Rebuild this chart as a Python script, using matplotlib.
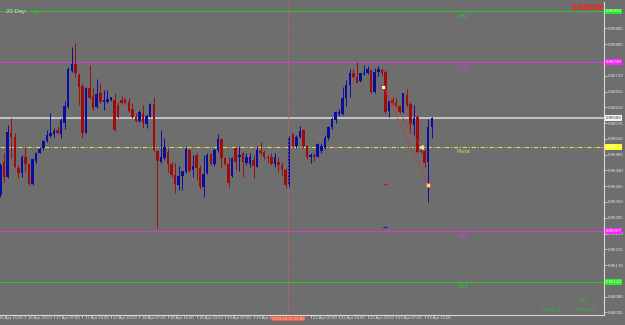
import numpy as np
import matplotlib
matplotlib.use("Agg")
import matplotlib.pyplot as plt
import matplotlib.transforms as mtransforms

plt.rcParams["font.family"] = ["Liberation Sans", "DejaVu Sans"]

# H1 candles, prices in points (1e-5)
opens = [86370, 86465, 86422, 86548, 86536, 86448, 86433, 86477, 86458, 86401,
         86468, 86490, 86503, 86524, 86538, 86544, 86555, 86544, 86575, 86620,
         86724, 86743, 86712, 86682, 86548, 86676, 86652, 86620, 86662, 86636,
         86636, 86641, 86641, 86626, 86641, 86643, 86636, 86615, 86593, 86582,
         86601, 86572, 86593, 86628, 86495, 86465, 86475, 86493, 86458, 86427,
         86398, 86424, 86436, 86498, 86441, 86484, 86446, 86393, 86432, 86487,
         86458, 86498, 86529, 86475, 86458, 86424, 86503, 86477, 86489, 86460,
         86458, 86470, 86451, 86496, 86493, 86478, 86477, 86458, 86465, 86455,
         86441, 86398, 86544, 86510, 86536, 86555, 86510, 86477, 86484, 86479,
         86496, 86503, 86532, 86563, 86584, 86601, 86601, 86646, 86684, 86719,
         86707, 86696, 86715, 86717, 86726, 86664, 86720, 86726, 86721, 86610,
         86641, 86631, 86624, 86607, 86655, 86629, 86570, 86593, 86495, 86495,
         86465, 86563]
highs = [86462, 86489, 86570, 86589, 86546, 86455, 86484, 86508, 86460, 86475,
         86493, 86508, 86527, 86555, 86605, 86560, 86567, 86589, 86639, 86736,
         86793, 86802, 86717, 86688, 86679, 86741, 86679, 86700, 86690, 86669,
         86669, 86650, 86662, 86636, 86652, 86646, 86646, 86631, 86603, 86612,
         86626, 86601, 86631, 86648, 86498, 86555, 86532, 86503, 86465, 86460,
         86453, 86439, 86508, 86500, 86484, 86489, 86455, 86484, 86489, 86489,
         86503, 86543, 86532, 86479, 86479, 86479, 86508, 86510, 86493, 86490,
         86489, 86484, 86510, 86522, 86498, 86484, 86489, 86489, 86479, 86465,
         86446, 86538, 86546, 86541, 86567, 86557, 86512, 86490, 86489, 86519,
         86517, 86541, 86567, 86591, 86610, 86614, 86679, 86698, 86728, 86728,
         86750, 86719, 86741, 86738, 86728, 86732, 86738, 86732, 86726, 86641,
         86650, 86647, 86626, 86662, 86672, 86636, 86626, 86598, 86507, 86500,
         86586, 86593]
lows = [86365, 86408, 86417, 86475, 86446, 86417, 86422, 86436, 86398, 86398,
        86460, 86489, 86498, 86522, 86536, 86536, 86544, 86532, 86557, 86617,
        86721, 86707, 86626, 86532, 86546, 86643, 86612, 86617, 86633, 86612,
        86633, 86639, 86553, 86589, 86629, 86628, 86607, 86589, 86579, 86579,
        86560, 86560, 86593, 86493, 86277, 86460, 86470, 86436, 86422, 86376,
        86384, 86384, 86433, 86436, 86420, 86413, 86388, 86365, 86430, 86455,
        86453, 86493, 86451, 86455, 86394, 86422, 86441, 86439, 86422, 86455,
        86449, 86417, 86449, 86484, 86472, 86460, 86455, 86451, 86436, 86424,
        86389, 86394, 86506, 86503, 86532, 86503, 86472, 86462, 86468, 86477,
        86489, 86500, 86527, 86557, 86576, 86595, 86598, 86624, 86650, 86703,
        86688, 86693, 86712, 86715, 86662, 86660, 86709, 86709, 86604, 86593,
        86626, 86622, 86604, 86605, 86621, 86547, 86541, 86489, 86489, 86451,
        86351, 86532]
closes = [86455, 86422, 86550, 86536, 86451, 86433, 86479, 86458, 86401, 86472,
          86490, 86500, 86524, 86541, 86548, 86553, 86546, 86584, 86624, 86728,
          86743, 86717, 86679, 86546, 86676, 86646, 86617, 86658, 86636, 86641,
          86643, 86648, 86555, 86591, 86631, 86631, 86610, 86591, 86582, 86607,
          86574, 86595, 86628, 86498, 86468, 86479, 86506, 86458, 86427, 86401,
          86424, 86438, 86500, 86439, 86453, 86446, 86393, 86430, 86484, 86458,
          86498, 86529, 86475, 86458, 86403, 86475, 86465, 86484, 86465, 86477,
          86477, 86453, 86498, 86489, 86477, 86476, 86458, 86477, 86455, 86443,
          86398, 86536, 86510, 86536, 86553, 86510, 86477, 86484, 86477, 86515,
          86510, 86532, 86563, 86586, 86607, 86607, 86646, 86684, 86717, 86707,
          86690, 86717, 86719, 86728, 86664, 86721, 86729, 86718, 86607, 86639,
          86631, 86624, 86607, 86660, 86626, 86572, 86589, 86493, 86492, 86462,
          86563, 86589]

# 19 Apr 23:00 sits under the crosshair box, so it is left out
time_labels = ["16 Apr 15:00", "16 Apr 23:00", "17 Apr 07:00", "17 Apr 15:00",
               "17 Apr 23:00", "18 Apr 07:00", "18 Apr 15:00", "18 Apr 23:00",
               "19 Apr 07:00", "19 Apr 15:00", "22 Apr 07:00",
               "22 Apr 15:00", "22 Apr 23:00", "23 Apr 07:00", "23 Apr 15:00"]
time_idx = [-1, 7, 15, 23, 31, 39, 47, 55, 63, 71, 87, 95, 103, 111, 119]

# ticks hidden behind level boxes are not labelled
y_ticks = [0.86035, 0.86080, 0.86170, 0.86215, 0.86260, 0.86305,
           0.86350, 0.86395, 0.86440, 0.86485, 0.86530, 0.86575, 0.86620,
           0.86665, 0.86710, 0.86800, 0.86845]

level_names = ["R61", "R38", "Pivot", "S38", "S61"]
level_values = [0.86894, 0.86749, 0.86507, 0.86267, 0.86122]
level_colors = ["#2ec42e", "#d838d8", "#dede50", "#d838d8", "#2ec42e"]
box_colors = ["#22ee22", "#ff22ff", "#ffff22", "#ff22ff", "#22ee22"]
bid = 0.86589

cross_idx = 80.8
cross_label = "2019.04.22 01:00"

# trade history: entry and two exits
trade_x = [107.4, 118.0, 120.0]
trade_y = [0.86678, 0.86507, 0.86398]

o = np.array(opens) / 1e5
h = np.array(highs) / 1e5
l = np.array(lows) / 1e5
c = np.array(closes) / 1e5
x = np.arange(len(o))

bg = "#6e6e6e"
fg = "#e6e6e6"
bull = "#0c0ca0"
bear = "#a00c0c"

fig = plt.figure(figsize=(6.25, 3.25), dpi=100, facecolor=bg)
ax = fig.add_axes([0, 10 / 325, 604 / 625, 313 / 325], facecolor=bg)

cols = np.where(c >= o, bull, bear)
ax.vlines(x, l, h, colors=cols, linewidth=0.7, zorder=3)
body_bot = np.minimum(o, c)
body_h = np.maximum(np.abs(c - o), 0.000012)
ax.bar(x, body_h, bottom=body_bot, width=0.7, color=cols, linewidth=0, zorder=4)

# levels
for name, val, col in zip(level_names, level_values, level_colors):
    if name == "Pivot":
        ax.axhline(val, color=col, linewidth=0.8, linestyle=(0, (4, 1.5, 1, 1.5)), zorder=2)
    else:
        ax.axhline(val, color=col, linewidth=0.72, antialiased=False, zorder=2)
    ax.annotate(name, (129.8, val), xytext=(0, -3.6), textcoords="offset points",
                ha="center", va="center", fontsize=4.5, color=col, zorder=6)

ax.axhline(bid, color="#c4c4c4", linewidth=1.4, zorder=2)

# crosshair
ax.axvline(cross_idx, color="#e0604c", linewidth=0.6, linestyle=(0, (2, 2)), zorder=5)

# trade lines and markers
for i in (1, 2):
    ax.plot([trade_x[0], trade_x[i]], [trade_y[0], trade_y[i]], color="#e02a2a",
            linewidth=0.8, linestyle=(0, (1, 1.2)), zorder=5)
ax.plot(trade_x[0], trade_y[0], marker="s", markersize=2.6, color="#f4f4f4",
        markeredgecolor="#d02020", markeredgewidth=0.6, zorder=7)
ax.plot(trade_x[1], trade_y[1], marker="<", markersize=2.6, color="#f0e0a0", zorder=7)
ax.plot(trade_x[2], trade_y[2], marker="s", markersize=2.2, color="#f4d0a0",
        markeredgecolor="#e06020", markeredgewidth=0.5, zorder=7)
ax.plot(107.9, 0.86401, marker="_", markersize=2.5, color="#b02020", zorder=7)
ax.plot(107.9, 0.86279, marker="_", markersize=2.5, color="#2020b0", zorder=7)

ax.set_xlim(-0.14, 169.33)
ax.set_ylim(0.860276, 0.869203)

# axes styling
for s in ("left", "top"):
    ax.spines[s].set_visible(False)
for s in ("right", "bottom"):
    ax.spines[s].set_color("#d8d8d8")
    ax.spines[s].set_linewidth(0.8)
ax.yaxis.tick_right()
ax.set_yticks(y_ticks)
ax.set_yticklabels([f"{v:.5f}" for v in y_ticks])
ax.tick_params(axis="y", direction="out", length=2, width=0.5, colors=fg,
               labelsize=3.2, pad=1)
ax.set_xticks([t for t in time_idx if t >= 0])
ax.set_xticklabels([])
ax.tick_params(axis="x", direction="out", length=2, width=0.5, colors=fg)

tx = mtransforms.blended_transform_factory(ax.transData, ax.transAxes)
off = mtransforms.ScaledTranslation(2.2 / 100, -1.5 / 100, fig.dpi_scale_trans)
for t, lab in zip(time_idx, time_labels):
    ax.text(t, 0, lab, transform=tx + off, ha="left", va="top", fontsize=3.1,
            color=fg, clip_on=False)
ax.text(cross_idx, 0, cross_label,
        transform=tx + mtransforms.ScaledTranslation(0, -1.5 / 100, fig.dpi_scale_trans),
        ha="center", va="top", fontsize=3.1, color="#f6d8cc", clip_on=False, zorder=10,
        bbox=dict(facecolor="#e8604c", edgecolor="none", pad=0.6))

# right side price boxes
ty = mtransforms.blended_transform_factory(ax.transAxes, ax.transData)
for val, bc in zip(level_values, box_colors):
    ax.text(1.003, val, f"{val:.5f}", transform=ty, ha="left", va="center",
            fontsize=3.2, color="#f8f8f8", clip_on=False, zorder=10,
            bbox=dict(facecolor=bc, edgecolor="none", pad=0.5))
ax.text(1.003, bid, f"{bid:.5f}", transform=ty, ha="left", va="center",
        fontsize=3.2, color="#404040", clip_on=False, zorder=10,
        bbox=dict(facecolor="#f4f4f4", edgecolor="none", pad=0.5))

# labels in the chart window
W, H = 625, 325
fig.text(6 / W, 1 - 12 / H, "20 Day:", fontsize=4.3, color="#dcdcdc", va="center")
fig.text(33 / W, 1 - 12 / H, "20", fontsize=4.3, color="#30c030", va="center")
fig.text(603 / W, 1 - 8 / H, f"{bid:.5f}", fontsize=6.3, color="#ff1e1e",
         fontweight="bold", ha="right", va="center")
fig.text(583 / W, 1 - 300 / H, "0.0", fontsize=4.3, color="#36b436", ha="center", va="center")
fig.text(542 / W, 1 - 309.5 / H, "long: 0", fontsize=4.3, color="#36b436", va="center")
fig.text(576 / W, 1 - 309.5 / H, "short: 0", fontsize=4.3, color="#36b436", va="center")

fig.savefig("out.png", dpi=100, facecolor=bg)
